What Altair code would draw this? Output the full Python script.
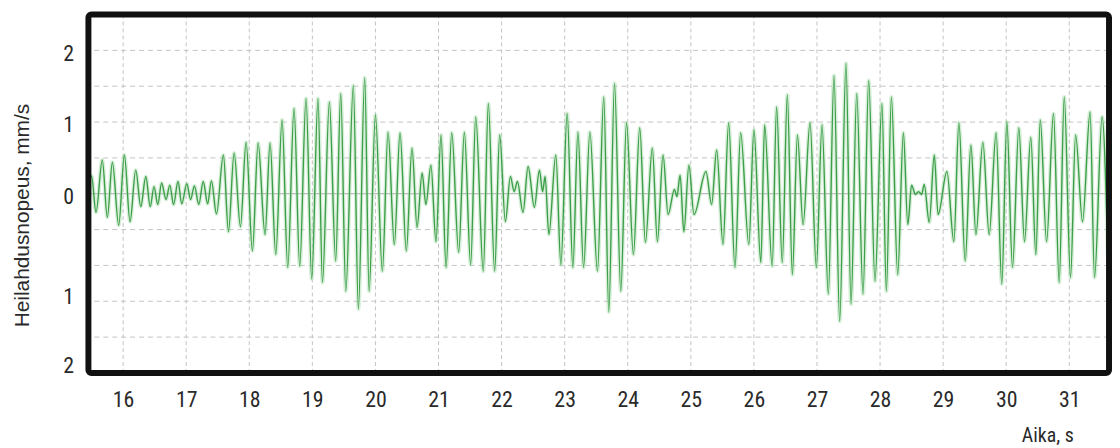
import altair as alt
import pandas as pd

# Time (s) and velocity (mm/s) at the turning points of the trace
times = [15.46, 15.50, 15.57, 15.67, 15.75, 15.83, 15.93, 16.02, 16.11, 16.20, 16.28,
         16.36, 16.43, 16.49, 16.55, 16.61, 16.68, 16.74, 16.80, 16.87, 16.93, 17.01,
         17.07, 17.13, 17.20, 17.27, 17.34, 17.40, 17.48, 17.59, 17.67, 17.76, 17.86,
         17.95, 18.05, 18.14, 18.25, 18.33, 18.42, 18.52, 18.61, 18.71, 18.80, 18.90,
         18.99, 19.09, 19.16, 19.27, 19.37, 19.45, 19.53, 19.65, 19.73, 19.83, 19.90,
         20.00, 20.11, 20.20, 20.30, 20.39, 20.49, 20.58, 20.66, 20.74, 20.80, 20.88,
         20.96, 21.04, 21.12, 21.21, 21.32, 21.41, 21.51, 21.59, 21.71, 21.79, 21.89,
         21.97, 22.06, 22.14, 22.20, 22.25, 22.34, 22.42, 22.52, 22.60, 22.65, 22.69,
         22.75, 22.86, 22.94, 23.04, 23.13, 23.21, 23.30, 23.40, 23.52, 23.62, 23.70,
         23.79, 23.89, 23.98, 24.09, 24.19, 24.28, 24.39, 24.47, 24.56, 24.64, 24.74,
         24.78, 24.83, 24.89, 24.97, 25.05, 25.24, 25.33, 25.41, 25.51, 25.60, 25.70,
         25.79, 25.92, 26.00, 26.11, 26.17, 26.29, 26.36, 26.45, 26.53, 26.61, 26.69,
         26.78, 26.89, 26.99, 27.08, 27.18, 27.27, 27.36, 27.46, 27.54, 27.63, 27.73,
         27.82, 27.92, 28.03, 28.10, 28.18, 28.28, 28.37, 28.44, 28.50, 28.56, 28.61,
         28.66, 28.70, 28.78, 28.86, 28.92, 29.06, 29.17, 29.25, 29.35, 29.44, 29.52,
         29.63, 29.73, 29.84, 29.93, 30.01, 30.10, 30.20, 30.29, 30.39, 30.47, 30.54,
         30.64, 30.75, 30.84, 30.92, 31.02, 31.10, 31.21, 31.33, 31.40, 31.52, 31.62]
velocity = [0.05, 0.25, -0.26, 0.47, -0.33, 0.44, -0.44, 0.54, -0.39, 0.33, -0.18,
            0.24, -0.18, 0.10, -0.15, 0.15, -0.08, 0.12, -0.15, 0.17, -0.14, 0.14,
            -0.08, 0.11, -0.15, 0.17, -0.14, 0.18, -0.28, 0.54, -0.53, 0.57, -0.46,
            0.72, -0.80, 0.71, -0.57, 0.71, -0.85, 1.03, -1.03, 1.19, -1.01, 1.33,
            -1.19, 1.33, -1.24, 1.28, -0.94, 1.40, -1.36, 1.51, -1.61, 1.62, -1.36,
            1.10, -1.08, 0.86, -0.71, 0.85, -0.80, 0.64, -0.47, 0.29, -0.15, 0.40,
            -0.67, 0.82, -1.03, 0.85, -0.82, 0.86, -0.99, 1.07, -1.08, 1.26, -1.08,
            0.82, -0.39, 0.24, 0.03, 0.17, -0.26, 0.38, -0.19, 0.33, 0.03, 0.24,
            -0.57, 0.54, -0.99, 1.12, -1.03, 0.86, -1.03, 0.86, -1.08, 1.35, -1.65,
            1.54, -1.36, 0.99, -0.85, 0.92, -0.68, 0.64, -0.67, 0.54, -0.29, 0.06,
            -0.04, 0.26, -0.53, 0.40, -0.29, 0.31, -0.15, 0.61, -0.71, 0.99, -1.03,
            0.85, -0.71, 0.89, -0.96, 0.96, -1.01, 1.21, -0.96, 1.38, -1.13, 0.82,
            -0.43, 0.99, -1.03, 0.96, -1.40, 1.65, -1.78, 1.82, -1.54, 1.40, -1.40,
            1.58, -1.22, 1.26, -1.36, 1.35, -1.13, 0.85, -0.43, 0.12, -0.01, 0.03,
            -0.01, 0.13, -0.40, 0.54, -0.29, 0.31, -0.67, 0.99, -0.94, 0.68, -0.57,
            0.72, -0.57, 0.85, -1.26, 1.00, -1.03, 0.92, -0.67, 0.79, -0.85, 1.03,
            -0.67, 1.12, -1.24, 1.35, -1.17, 0.82, -0.39, 1.14, -1.17, 1.07, -1.22]

x_ticks = [16, 17, 18, 19, 20, 21, 22, 23, 24, 25, 26, 27, 28, 29, 30, 31]
y_grid = [-2.0, -1.5, -1.0, -0.5, 0.5, 1.0, 1.5, 2.0]
y_label_pos = [1.96, 0.96, -0.04, -1.43, -2.40]

X_DOMAIN = [15.45, 31.63]
Y_DOMAIN = [-2.5, 2.5]
W, H = 1028, 361
NARROW = "Liberation Sans Narrow, Arial Narrow, Roboto Condensed, Liberation Sans, sans-serif"

sig = pd.DataFrame({"t": times, "v": velocity})
xs = alt.Scale(domain=X_DOMAIN, nice=False, zero=False)
ys = alt.Scale(domain=Y_DOMAIN, nice=False, zero=False)

vgrid = alt.Chart(pd.DataFrame({"t": x_ticks})).mark_rule(
    color="#c4c4c4", strokeWidth=1, strokeDash=[4, 3]
).encode(x=alt.X("t:Q", scale=xs, axis=None))

hgrid = alt.Chart(pd.DataFrame({"v": y_grid})).mark_rule(
    color="#c4c4c4", strokeWidth=1, strokeDash=[5, 4]
).encode(y=alt.Y("v:Q", scale=ys, axis=None))

zero = alt.Chart(pd.DataFrame({"v": [0.0]})).mark_rule(
    color="#a8a8a8", strokeWidth=1
).encode(y=alt.Y("v:Q", scale=ys, axis=None))

halo = alt.Chart(sig).mark_line(
    color="#a8dcae", strokeWidth=4, opacity=0.45, interpolate="monotone", clip=True
).encode(
    x=alt.X("t:Q", scale=xs, axis=None),
    y=alt.Y("v:Q", scale=ys, axis=None),
)

line = alt.Chart(sig).mark_line(
    color="#3c9e48", strokeWidth=1.4, interpolate="monotone", clip=True
).encode(
    x=alt.X("t:Q", scale=xs, title="Aika, s",
            axis=alt.Axis(values=x_ticks, grid=False, ticks=False, domain=False,
                          labelPadding=17, labelFontSize=22, labelColor="#2a2a2a",
                          labelFont=NARROW, titleFont=NARROW,
                          titleFontSize=20, titleFontWeight="normal", titleColor="#2a2a2a",
                          titleAlign="right", titleBaseline="middle", titleX=992, titleY=63)),
    y=alt.Y("v:Q", scale=ys, title="Heilahdusnopeus, mm/s",
            axis=alt.Axis(values=y_label_pos, grid=False, ticks=False, domain=False,
                          labelExpr="toString(abs(round(datum.value)))",
                          labelPadding=15, labelFontSize=22, labelColor="#2a2a2a",
                          labelFont=NARROW,
                          titleFont="Liberation Sans, Arial, sans-serif",
                          titleFontSize=21, titleFontWeight="normal", titleColor="#2a2a2a",
                          titleAngle=270, titleAlign="center", titleBaseline="middle",
                          titleX=-66, titleY=202)),
)

border = alt.Chart(pd.DataFrame({"a": [0]})).mark_rect(
    filled=False, stroke="#111111", strokeWidth=6, cornerRadius=3
).encode(x=alt.value(0), x2=alt.value(W), y=alt.value(0), y2=alt.value(H))

chart = alt.layer(vgrid, hgrid, zero, halo, line, border).resolve_axis(
    x="independent", y="independent"
).properties(
    width=W, height=H,
    autosize=alt.AutoSizeParams(type="none"),
    padding={"left": 81, "top": 5, "right": 3, "bottom": 74},
).configure_view(stroke=None)

chart.save("out.html", embed_options={"renderer": "svg", "actions": False})
